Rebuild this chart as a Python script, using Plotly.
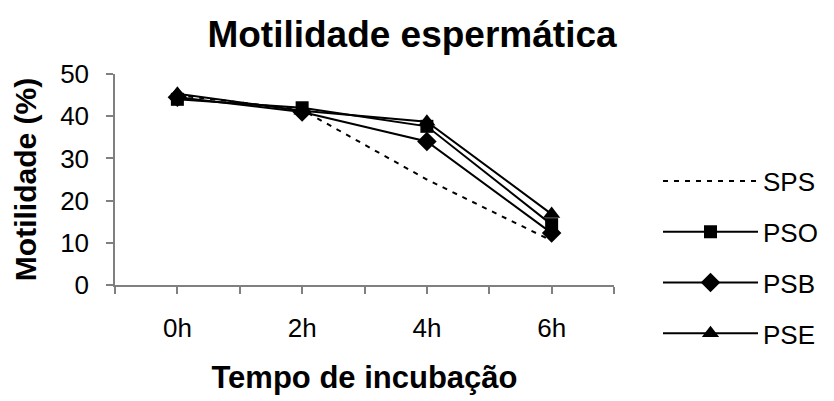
import plotly.graph_objects as go

categories = ["0h", "2h", "4h", "6h"]
sps = [45.0, 41.5, 25.0, 10.5]
pso = [44.0, 42.0, 37.6, 14.3]
psb = [44.5, 41.0, 34.0, 12.3]
pse = [45.3, 41.3, 38.7, 16.8]

x_idx = list(range(len(categories)))

# ticks at category centres and boundaries (Excel style)
tickvals = []
ticktext = []
for i, c in enumerate(categories):
    tickvals += [i - 0.5, i]
    ticktext += ["", c]
tickvals.append(len(categories) - 0.5)
ticktext.append("")

FONT = "Liberation Sans, Arial, Helvetica, sans-serif"

fig = go.Figure()
fig.add_trace(go.Scatter(x=x_idx, y=sps, name="SPS", mode="lines",
                         line=dict(color="black", width=2, dash="5px,6px"),
                         legendgroup="a"))
fig.add_trace(go.Scatter(x=x_idx, y=pso, name="PSO", mode="lines+markers",
                         line=dict(color="black", width=2),
                         marker=dict(symbol="square", size=13, color="black"),
                         legendgroup="b"))
fig.add_trace(go.Scatter(x=x_idx, y=psb, name="PSB", mode="lines+markers",
                         line=dict(color="black", width=2),
                         marker=dict(symbol="diamond", size=15, color="black"),
                         legendgroup="c"))
fig.add_trace(go.Scatter(x=x_idx, y=pse, name="PSE", mode="lines+markers",
                         line=dict(color="black", width=2),
                         marker=dict(symbol="triangle-up", size=15, color="black"),
                         legendgroup="d"))

fig.update_layout(
    width=834, height=401,
    margin=dict(l=115, r=219, t=74, b=116),
    paper_bgcolor="white", plot_bgcolor="white",
    font=dict(family=FONT, color="black", size=26),
    title=dict(text="<b>Motilidade espermática</b>", x=0.494, xref="container",
               xanchor="center", y=0.915, yref="container", yanchor="middle",
               font=dict(size=37, family=FONT, color="black")),
    showlegend=True,
    legend=dict(x=1.086, xanchor="left", y=0.13, yanchor="middle",
                font=dict(size=26, family=FONT), tracegroupgap=14,
                itemwidth=95, bgcolor="rgba(0,0,0,0)"),
    xaxis=dict(range=[-0.5, len(categories) - 0.5], tickmode="array",
               tickvals=tickvals, ticktext=ticktext,
               showline=True, linecolor="#808080", linewidth=1.5,
               ticks="outside", ticklen=7, tickcolor="#808080", tickwidth=1.5,
               showgrid=False, zeroline=False, ticklabelstandoff=12,
               tickfont=dict(size=26),
               title=dict(text="<b>Tempo de incubação</b>", standoff=24,
                          font=dict(size=31))),
    yaxis=dict(range=[0, 50], tickvals=[0, 10, 20, 30, 40, 50],
               showline=True, linecolor="#808080", linewidth=1.5,
               ticks="outside", ticklen=7, tickcolor="#808080", tickwidth=1.5,
               showgrid=False, zeroline=False, ticklabelstandoff=12,
               tickfont=dict(size=26),
               title=dict(text="<b>Motilidade (%)</b>", standoff=15,
                          font=dict(size=30))),
)

fig.write_html("out.html",
               config={"displayModeBar": False},
               post_script="document.body.style.margin='0px';document.body.style.overflow='hidden';")
